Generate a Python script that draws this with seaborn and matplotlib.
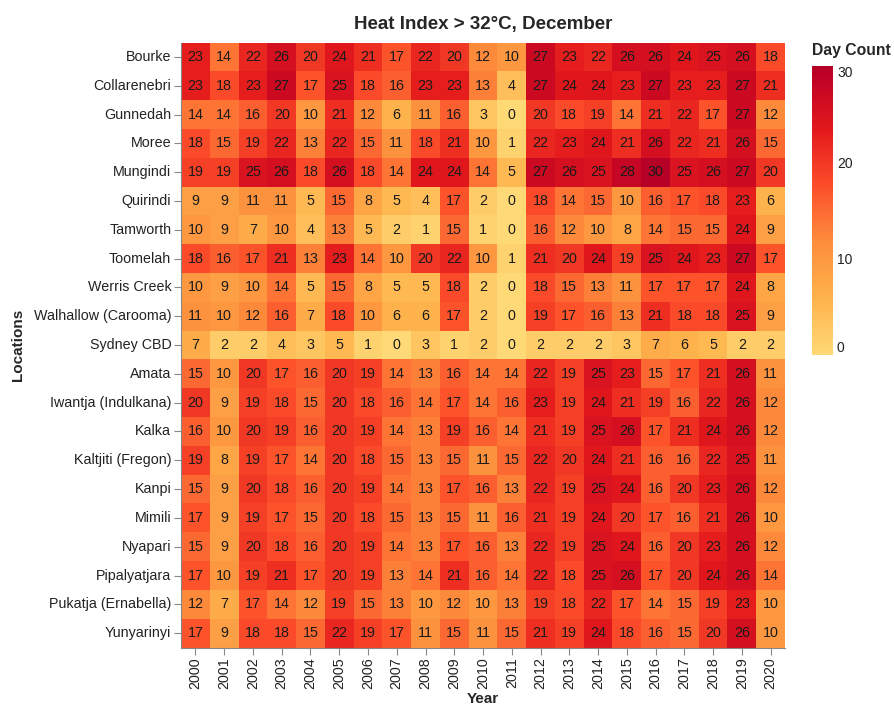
import numpy as np
import pandas as pd
import matplotlib
matplotlib.use("Agg")
import matplotlib.pyplot as plt
from matplotlib.colors import LinearSegmentedColormap
import seaborn as sns

# Years (columns) and locations (rows)
years = [str(y) for y in range(2000, 2021)]
locations = [
    "Bourke", "Collarenebri", "Gunnedah", "Moree", "Mungindi", "Quirindi",
    "Tamworth", "Toomelah", "Werris Creek", "Walhallow (Carooma)", "Sydney CBD",
    "Amata", "Iwantja (Indulkana)", "Kalka", "Kaltjiti (Fregon)", "Kanpi",
    "Mimili", "Nyapari", "Pipalyatjara", "Pukatja (Ernabella)", "Yunyarinyi",
]

# December day counts with heat index above 32°C, one list per location
bourke       = [23, 14, 22, 26, 20, 24, 21, 17, 22, 20, 12, 10, 27, 23, 22, 26, 26, 24, 25, 26, 18]
collarenebri = [23, 18, 23, 27, 17, 25, 18, 16, 23, 23, 13, 4, 27, 24, 24, 23, 27, 23, 23, 27, 21]
gunnedah     = [14, 14, 16, 20, 10, 21, 12, 6, 11, 16, 3, 0, 20, 18, 19, 14, 21, 22, 17, 27, 12]
moree        = [18, 15, 19, 22, 13, 22, 15, 11, 18, 21, 10, 1, 22, 23, 24, 21, 26, 22, 21, 26, 15]
mungindi     = [19, 19, 25, 26, 18, 26, 18, 14, 24, 24, 14, 5, 27, 26, 25, 28, 30, 25, 26, 27, 20]
quirindi     = [9, 9, 11, 11, 5, 15, 8, 5, 4, 17, 2, 0, 18, 14, 15, 10, 16, 17, 18, 23, 6]
tamworth     = [10, 9, 7, 10, 4, 13, 5, 2, 1, 15, 1, 0, 16, 12, 10, 8, 14, 15, 15, 24, 9]
toomelah     = [18, 16, 17, 21, 13, 23, 14, 10, 20, 22, 10, 1, 21, 20, 24, 19, 25, 24, 23, 27, 17]
werris_creek = [10, 9, 10, 14, 5, 15, 8, 5, 5, 18, 2, 0, 18, 15, 13, 11, 17, 17, 17, 24, 8]
walhallow    = [11, 10, 12, 16, 7, 18, 10, 6, 6, 17, 2, 0, 19, 17, 16, 13, 21, 18, 18, 25, 9]
sydney_cbd   = [7, 2, 2, 4, 3, 5, 1, 0, 3, 1, 2, 0, 2, 2, 2, 3, 7, 6, 5, 2, 2]
amata        = [15, 10, 20, 17, 16, 20, 19, 14, 13, 16, 14, 14, 22, 19, 25, 23, 15, 17, 21, 26, 11]
iwantja      = [20, 9, 19, 18, 15, 20, 18, 16, 14, 17, 14, 16, 23, 19, 24, 21, 19, 16, 22, 26, 12]
kalka        = [16, 10, 20, 19, 16, 20, 19, 14, 13, 19, 16, 14, 21, 19, 25, 26, 17, 21, 24, 26, 12]
kaltjiti     = [19, 8, 19, 17, 14, 20, 18, 15, 13, 15, 11, 15, 22, 20, 24, 21, 16, 16, 22, 25, 11]
kanpi        = [15, 9, 20, 18, 16, 20, 19, 14, 13, 17, 16, 13, 22, 19, 25, 24, 16, 20, 23, 26, 12]
mimili       = [17, 9, 19, 17, 15, 20, 18, 15, 13, 15, 11, 16, 21, 19, 24, 20, 17, 16, 21, 26, 10]
nyapari      = [15, 9, 20, 18, 16, 20, 19, 14, 13, 17, 16, 13, 22, 19, 25, 24, 16, 20, 23, 26, 12]
pipalyatjara = [17, 10, 19, 21, 17, 20, 19, 13, 14, 21, 16, 14, 22, 18, 25, 26, 17, 20, 24, 26, 14]
pukatja      = [12, 7, 17, 14, 12, 19, 15, 13, 10, 12, 10, 13, 19, 18, 22, 17, 14, 15, 19, 23, 10]
yunyarinyi   = [17, 9, 18, 18, 15, 22, 19, 17, 11, 15, 11, 15, 21, 19, 24, 18, 16, 15, 20, 26, 10]

rows = [bourke, collarenebri, gunnedah, moree, mungindi, quirindi, tamworth,
        toomelah, werris_creek, walhallow, sydney_cbd, amata, iwantja, kalka,
        kaltjiti, kanpi, mimili, nyapari, pipalyatjara, pukatja, yunyarinyi]
df = pd.DataFrame(rows, index=locations, columns=years)

sns.set_style("white")
plt.rcParams["font.family"] = ["Liberation Sans", "DejaVu Sans"]

# Yellow-orange-red ramp, starting from a warm yellow
base = plt.get_cmap("YlOrRd")
cmap = LinearSegmentedColormap.from_list(
    "heat", base(np.linspace(0.25, 0.89, 256)))

fig = plt.figure(figsize=(8.94, 7.09), dpi=100)
ax = fig.add_axes([0.2025, 0.0867, 0.6756, 0.8533])
cax = fig.add_axes([0.908, 0.499, 0.0235, 0.4076])

sns.heatmap(df, ax=ax, cbar_ax=cax, cmap=cmap, vmin=0, vmax=30,
            annot=True, fmt="d", linewidths=0,
            annot_kws={"fontsize": 10.3, "color": "#1a1a1a"})

ax.set_xticklabels(years, rotation=90, fontsize=10.3)
ax.set_yticklabels(locations, rotation=0, fontsize=10.3)
ax.tick_params(axis="both", length=5, width=0.8, color="#888888",
               pad=2, bottom=True, left=True, labelcolor="#222222")
for side in ("left", "bottom"):
    ax.spines[side].set_visible(True)
    ax.spines[side].set_color("#888888")
    ax.spines[side].set_linewidth(0.8)

ax.set_xlabel("Year", fontsize=11, fontweight="bold", labelpad=2)
ax.set_ylabel("Locations", fontsize=11, fontweight="bold", labelpad=6)

fig.text(0.540, 1 - 25 / 709, "Heat Index > 32°C, December",
         ha="center", va="center", fontsize=13.5, fontweight="bold")

# Colour legend
cbar = ax.collections[0].colorbar
cbar.outline.set_visible(False)
cbar.set_ticks([0, 10, 20, 30])
cax.tick_params(length=0, pad=3, labelsize=10, labelcolor="#222222")
labels = cax.get_yticklabels()
labels[0].set_va("bottom")
labels[-1].set_va("top")
fig.text(812 / 894, 1 - 50 / 709, "Day Count", ha="left", va="center",
         fontsize=11.3, fontweight="bold")

fig.savefig("out.png", dpi=100)
